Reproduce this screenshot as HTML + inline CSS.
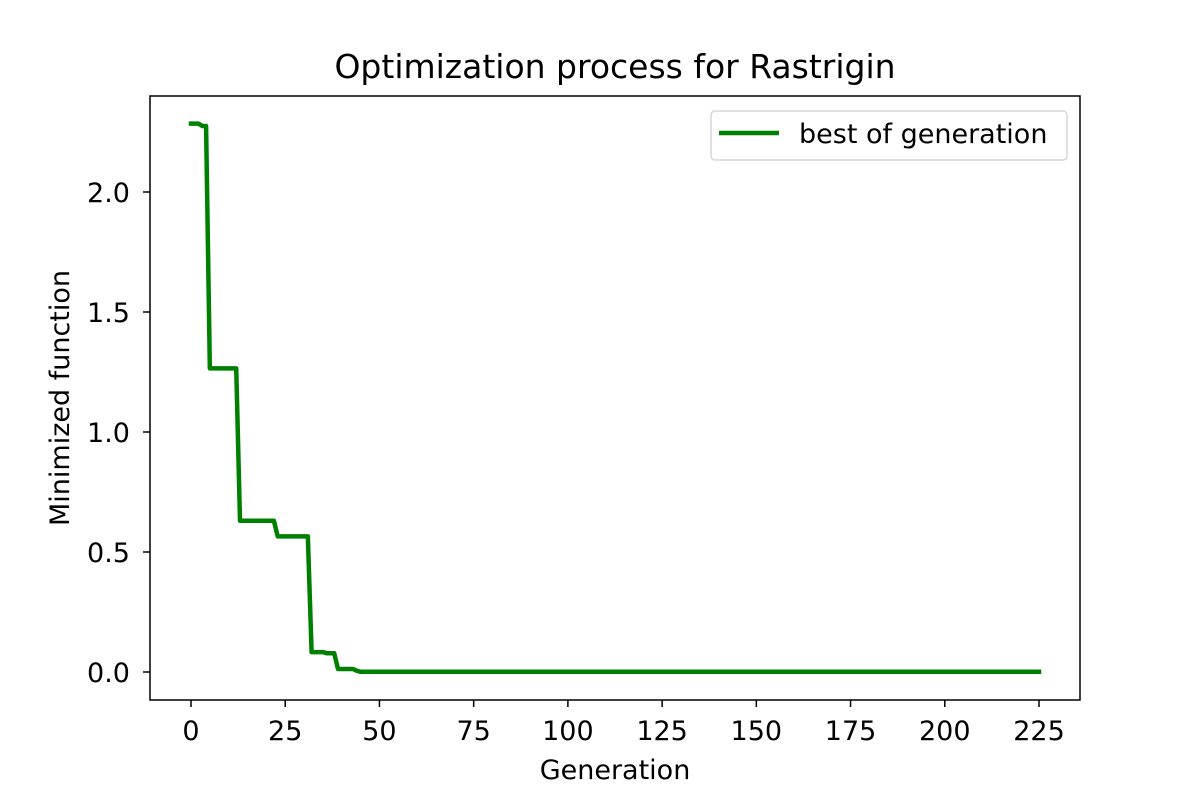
<!DOCTYPE html>
<html><head><meta charset="utf-8"><style>
html,body{margin:0;padding:0;background:#fff;}
svg text{font-family:"DejaVu Sans","Liberation Sans",sans-serif;fill:#000;}
</style></head><body>
<svg id="chart" width="1200" height="800" viewBox="0 0 1200 800" xmlns="http://www.w3.org/2000/svg">
<rect x="0" y="0" width="1200" height="800" fill="#fff"/>
<text x="615" y="78" font-size="33" text-anchor="middle">Optimization process for Rastrigin</text>
<g id="xticks"></g>
<g id="yticks"></g>
<polyline id="series" fill="none" stroke="#008000" stroke-width="4.5" stroke-linejoin="round" stroke-linecap="square"/>
<rect x="150" y="96" width="930" height="604" fill="none" stroke="#000" stroke-width="1.5"/>
<text x="615" y="779" font-size="27" text-anchor="middle">Generation</text>
<text transform="translate(69,398) rotate(-90)" font-size="27" text-anchor="middle">Minimized function</text>
<g>
<rect x="711" y="111" width="356" height="49" rx="4" fill="#fff" stroke="#d6d6d6" stroke-width="1.5"/>
<line x1="719" y1="133" x2="779" y2="133" stroke="#008000" stroke-width="4.5"/>
<text x="799" y="143" font-size="27">best of generation</text>
</g>
</svg>
<script>
const xTickValues = [0,25,50,75,100,125,150,175,200,225];
const yTickValues = [0,0.5,1.0,1.5,2.0];
const yTickLabels = ["0.0","0.5","1.0","1.5","2.0"];
const generations = [0,2,3,4,5,12,13,22,23,31,32,35,36,38,39,43,44,45,225];
const bestValues = [2.285,2.285,2.275,2.275,1.265,1.265,0.63,0.63,0.565,0.565,0.083,0.083,0.078,0.078,0.0125,0.0125,0.005,0.001,0.001];

const NS = "http://www.w3.org/2000/svg";
function xs(v){ return 191 + v * (848/225); }
function ys(v){ return 672 - v * 240; }

const xg = document.getElementById('xticks');
xTickValues.forEach(v=>{
  const l = document.createElementNS(NS,'line');
  l.setAttribute('x1',xs(v)); l.setAttribute('x2',xs(v));
  l.setAttribute('y1',700); l.setAttribute('y2',707);
  l.setAttribute('stroke','#000'); l.setAttribute('stroke-width','1.5');
  
  
  xg.appendChild(l);
  const t = document.createElementNS(NS,'text');
  t.setAttribute('x',xs(v)); t.setAttribute('y',740);
  t.setAttribute('font-size','27'); t.setAttribute('text-anchor','middle');
  t.textContent = String(v);
  
  
  xg.appendChild(t);
});
const yg = document.getElementById('yticks');
yTickValues.forEach((v,i)=>{
  const l = document.createElementNS(NS,'line');
  l.setAttribute('x1',143); l.setAttribute('x2',150);
  l.setAttribute('y1',ys(v)); l.setAttribute('y2',ys(v));
  l.setAttribute('stroke','#000'); l.setAttribute('stroke-width','1.5');
  
  
  yg.appendChild(l);
  const t = document.createElementNS(NS,'text');
  t.setAttribute('x',130); t.setAttribute('y',ys(v)+10);
  t.setAttribute('font-size','27'); t.setAttribute('text-anchor','end');
  t.textContent = yTickLabels[i];
  
  
  yg.appendChild(t);
});
document.getElementById('series').setAttribute('points',
  generations.map((g,i)=>xs(g)+','+ys(bestValues[i])).join(' '));
</script>
</body></html>
